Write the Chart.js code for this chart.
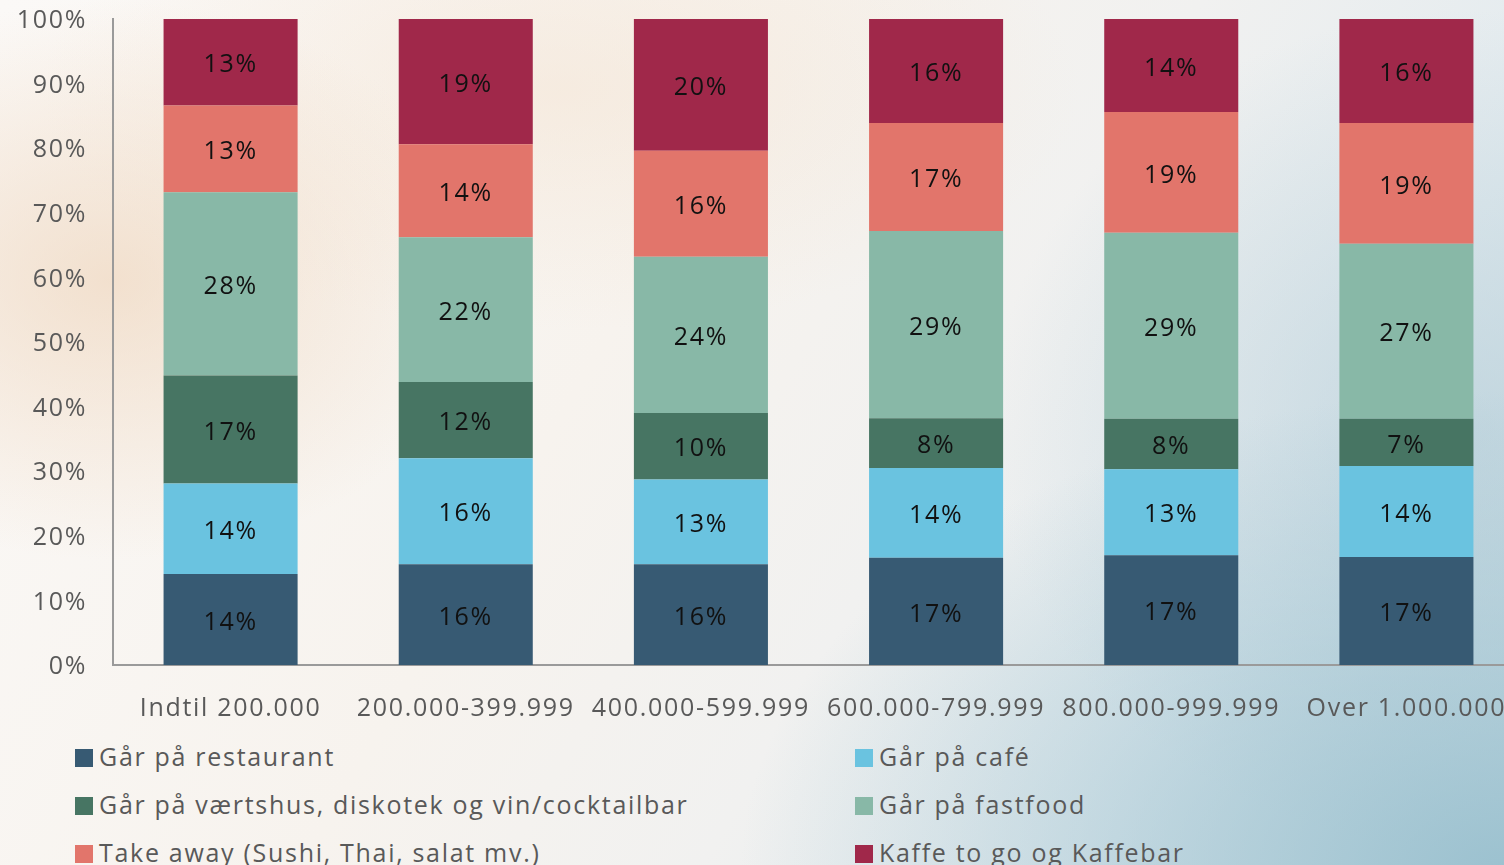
<!DOCTYPE html>
<html>
<head>
<meta charset="utf-8">
<script src="https://cdn.jsdelivr.net/npm/chart.js@4.4.1/dist/chart.umd.min.js"></script>
<style>
  html, body {
    margin: 0;
    padding: 0;
    width: 1504px;
    height: 865px;
    overflow: hidden;
  }
  body {
    position: relative;
    background:
      radial-gradient(ellipse 380px 280px at 110px 280px, rgba(238, 212, 186, 0.65), rgba(238, 212, 186, 0) 100%),
      radial-gradient(ellipse 520px 240px at 560px 90px, rgba(243, 224, 204, 0.45), rgba(243, 224, 204, 0) 100%),
      radial-gradient(ellipse 760px 480px at 1500px 870px, rgba(150, 190, 205, 0.9), rgba(150, 190, 205, 0) 100%),
      radial-gradient(ellipse 480px 420px at 1470px 430px, rgba(180, 205, 216, 0.65), rgba(180, 205, 216, 0) 100%),
      linear-gradient(120deg, #fbf9f7 0%, #f7f3ee 40%, #f1f1f0 60%, #e3ebef 80%, #d2e1e7 100%);
  }
  #wrap {
    position: absolute;
    left: 0;
    top: -22px;
    width: 1530px;
    height: 752px;
  }
  #legend {
    position: absolute;
    left: 75px;
    top: 740px;
    width: 1400px;
    font-family: "Open Sans", sans-serif;
    font-size: 25px;
    letter-spacing: 1.7px;
    color: #595959;
  }
  .item {
    position: absolute;
    white-space: nowrap;
    line-height: 32px;
  }
  .item span.box {
    display: inline-block;
    width: 18px;
    height: 18px;
    margin-right: 6px;
    vertical-align: -1px;
  }
</style>
</head>
<body>
<div id="wrap"><canvas id="myChart" width="1530" height="752"></canvas></div>
<div id="legend"></div>

<script>
const categories = ['Indtil 200.000', '200.000-399.999', '400.000-599.999', '600.000-799.999', '800.000-999.999', 'Over 1.000.000'];

const seriesNames = [
  'Går på restaurant',
  'Går på café',
  'Går på værtshus, diskotek og vin/cocktailbar',
  'Går på fastfood',
  'Take away (Sushi, Thai, salat mv.)',
  'Kaffe to go og Kaffebar'
];

// values in percent
const restaurant = [14.1, 15.6, 15.6, 16.6, 17.0, 16.7];
const cafe       = [14.0, 16.4, 13.1, 13.9, 13.3, 14.1];
const vaertshus  = [16.7, 11.8, 10.3, 7.7, 7.8, 7.3];
const fastfood   = [28.4, 22.4, 24.2, 29.0, 28.8, 27.1];
const takeaway   = [13.4, 14.4, 16.4, 16.7, 18.7, 18.7];
const kaffe      = [13.4, 19.4, 20.4, 16.1, 14.4, 16.1];

const yTicks = [0, 10, 20, 30, 40, 50, 60, 70, 80, 90, 100];

const colors = ['#375a73', '#6ac3e0', '#477563', '#88b8a7', '#e2756b', '#a0284a'];

const allSeries = [restaurant, cafe, vaertshus, fastfood, takeaway, kaffe];

const fontFamily = '"Open Sans", sans-serif';

// wider letters, closer to the original typeface
const spacing = {
  id: 'spacing',
  beforeDraw(chart) {
    chart.ctx.letterSpacing = '1.7px';
  }
};

// draw the % labels in the middle of each segment
const segmentLabels = {
  id: 'segmentLabels',
  afterDatasetsDraw(chart) {
    const ctx = chart.ctx;
    ctx.save();
    ctx.letterSpacing = '1.7px';
    ctx.font = '25px ' + fontFamily;
    ctx.fillStyle = '#111111';
    ctx.textAlign = 'center';
    ctx.textBaseline = 'middle';
    chart.data.datasets.forEach((ds, i) => {
      chart.getDatasetMeta(i).data.forEach((bar, j) => {
        let y = (bar.y + bar.base) / 2 + 3;
        ctx.fillText(Math.round(ds.data[j]) + '%', bar.x, y);
      });
    });
    ctx.restore();
  }
};

var ctx = document.getElementById('myChart').getContext('2d');
var chart = new Chart(ctx, {
  type: 'bar',
  data: {
    labels: categories,
    datasets: allSeries.map((vals, i) => {
      return {
        label: seriesNames[i],
        data: vals,
        backgroundColor: colors[i],
        borderWidth: 0,
        barPercentage: 0.57,
        categoryPercentage: 1
      }
    })
  },
  options: {
    responsive: false,
    animation: false,
    layout: { padding: { top: 19, left: 0, right: 6, bottom: 0 } },
    plugins: {
      legend: { display: false },
      tooltip: { enabled: false }
    },
    scales: {
      x: {
        stacked: true,
        grid: { display: false, drawTicks: false },
        border: { display: true, color: '#9a9a9a', width: 2 },
        ticks: {
          padding: 29,
          color: '#595959',
          font: { family: fontFamily, size: 25 },
          maxRotation: 0,
          autoSkip: false
        },
        afterFit(scale) { scale.height = 65; }
      },
      y: {
        stacked: true,
        min: 0,
        max: 100,
        afterBuildTicks(scale) {
          scale.ticks = yTicks.map((v) => ({ value: v }));
        },
        grid: { display: false, drawTicks: false },
        border: { display: true, color: '#9a9a9a', width: 2 },
        ticks: {
          padding: 26,
          labelOffset: 2,
          color: '#595959',
          font: { family: fontFamily, size: 25 },
          callback: (v) => v + '%'
        },
        afterFit(scale) { scale.width = 113; }
      }
    }
  },
  plugins: [spacing, segmentLabels]
});

// legend in two columns
let legend = document.getElementById('legend');
seriesNames.forEach((name, i) => {
  let item = document.createElement('div');
  item.className = 'item';
  item.style.left = (i % 2 === 0 ? 0 : 780) + 'px';
  item.style.top = (Math.floor(i / 2) * 48) + 'px';
  let box = document.createElement('span');
  box.className = 'box';
  box.style.background = colors[i];
  item.appendChild(box);
  item.appendChild(document.createTextNode(name));
  legend.appendChild(item);
});
</script>
</body>
</html>
